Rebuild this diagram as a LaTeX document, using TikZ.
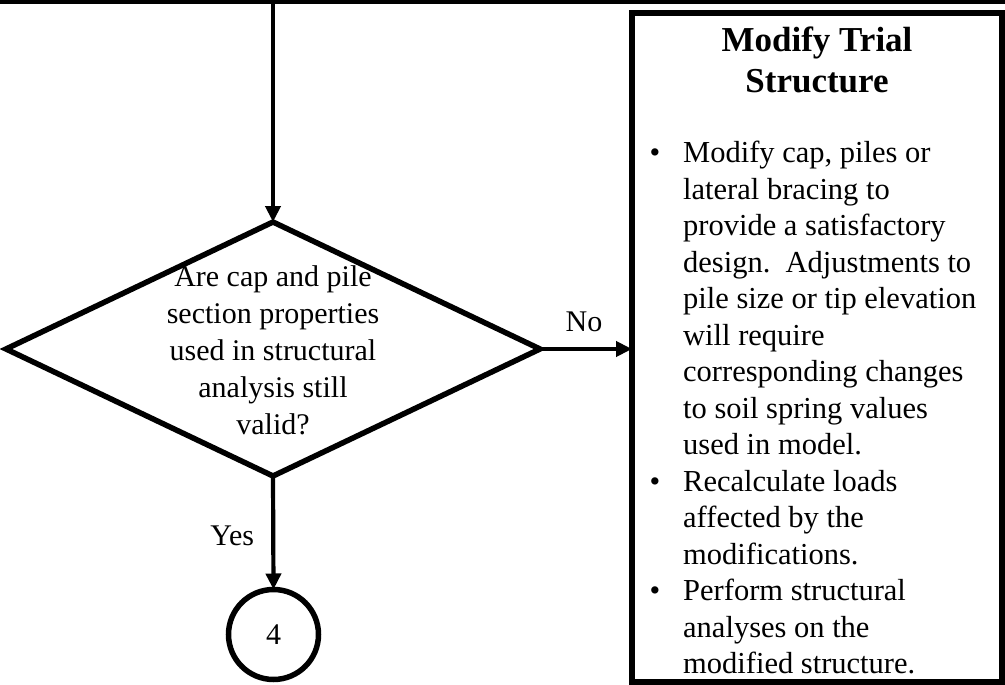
\documentclass[tikz,border=0pt]{standalone}
\usepackage{fontspec}
\setmainfont{Liberation Serif}
\usetikzlibrary{shapes.geometric,arrows.meta}
\begin{document}
\begin{tikzpicture}[x=1pt,y=-1pt,
  flowline/.style={line width=4.2pt},
  flowarrow/.style={flowline,-{Triangle[length=16pt,width=15pt]}},
  decision/.style={draw,diamond,line width=5.5pt,minimum width=534pt,minimum height=254pt,inner sep=0pt,outer sep=0pt},
  panel/.style={draw,rectangle,line width=5.5pt,minimum width=370pt,minimum height=669pt,inner sep=0pt,outer sep=0pt},
  connector/.style={draw,circle,line width=5.5pt,minimum size=90pt,inner sep=0pt,outer sep=0pt},
  bodytext/.style={font=\fontsize{30}{37}\selectfont},
  listtext/.style={font=\fontsize{30.5}{36.5}\selectfont,align=left,inner sep=0pt},
  titletext/.style={font=\bfseries\fontsize{35}{41}\selectfont,align=center,inner sep=0pt},
  edgelabel/.style={font=\fontsize{30}{36}\selectfont,inner sep=0pt},
]
\fill[white] (0,0) rectangle (1005,685);
\useasboundingbox (0,0) rectangle (1005,685);

% incoming flow from the previous step
\coordinate (railL) at (0,1.8);
\coordinate (railR) at (1005,1.8);
\draw[line width=3.8pt] (railL) -- (railR);
\coordinate (feed) at (273,0);

% decision
\node[decision,label={[bodytext,align=center,yshift=-1.5pt]center:Are cap and pile\\section properties\\used in structural\\analysis still\\valid?}] (q) at (273,349) {};

% modification panel
\node[panel] (mod) at (817,347.5) {};
\node[titletext] (modtitle) at (817,60) {Modify Trial\\Structure};
\node[listtext,anchor=north west] (modlist) at (683,141) {%
\llap{\textbullet\hspace{23pt}}Modify cap, piles or\\
lateral bracing to\\
provide a satisfactory\\
design.\ \ Adjustments to\\
pile size or tip elevation\\
will require\\
corresponding changes\\
to soil spring values\\
used in model.\\
\llap{\textbullet\hspace{23pt}}Recalculate loads\\
affected by the\\
modifications.\\
\llap{\textbullet\hspace{23pt}}Perform structural\\
analyses on the\\
modified structure.};

% off-page connector
\node[connector,bodytext] (c4) at (273.5,634.5) {4};

% connectors
\draw[flowarrow] (feed) -- (q.north);
\draw[flowarrow] (q.east) -- node[edgelabel,midway,above=15pt,xshift=-2pt] (nolabel) {No} (q.east -| mod.west);
\draw[flowarrow] (q.south) -- node[edgelabel,midway,left=17pt,yshift=-3pt] (yeslabel) {Yes} (c4.north);
\end{tikzpicture}
\end{document}
